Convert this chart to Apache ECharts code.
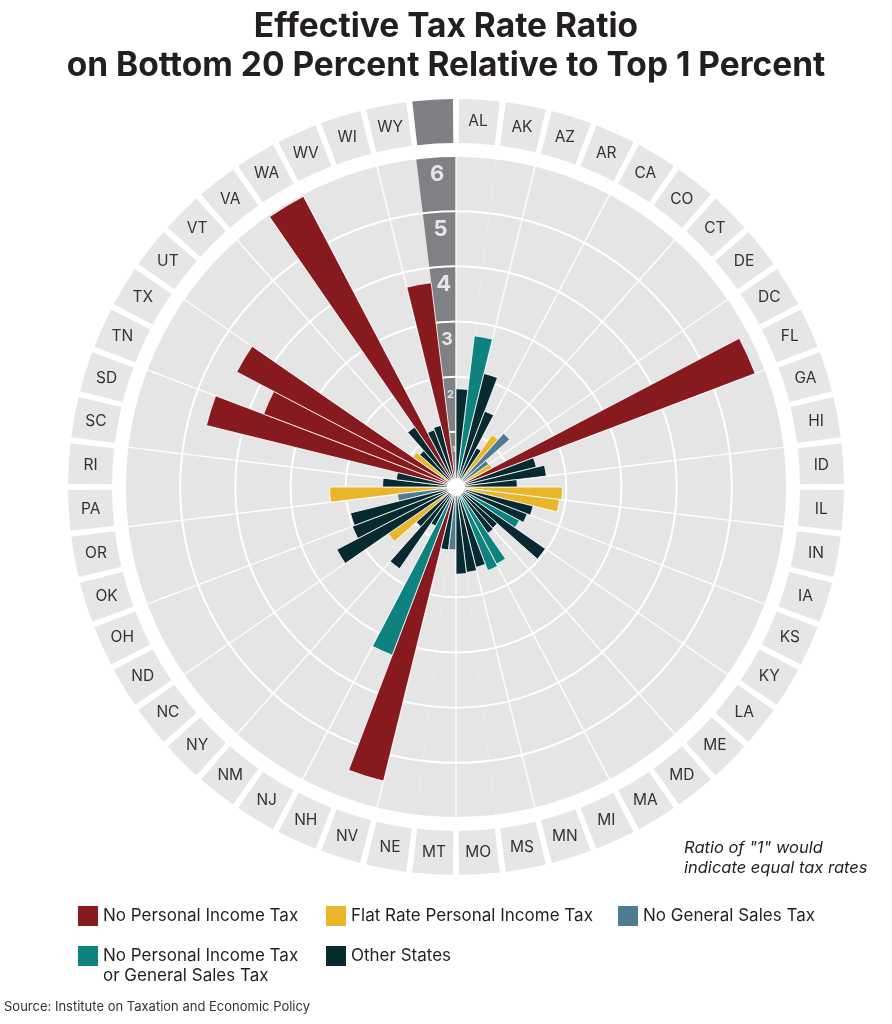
<!DOCTYPE html>
<html>
<head>
<meta charset="utf-8">
<script src="https://cdn.jsdelivr.net/npm/echarts@6/dist/echarts.min.js"></script>
<style>
html,body{margin:0;padding:0;background:#ffffff;}
#chart{width:892px;height:1024px;}
</style>
</head>
<body>
<div id="chart"></div>
<script>
// ---------- data ----------
const states = ['AL','AK','AZ','AR','CA','CO','CT','DE','DC','FL','GA','HI','ID','IL','IN','IA','KS','KY','LA','ME',
  'MD','MA','MI','MN','MS','MO','MT','NE','NV','NH','NJ','NM','NY','NC','ND','OH','OK','OR','PA','RI',
  'SC','SD','TN','TX','UT','VT','VA','WA','WV','WI','WY'];
const ratios = [1.78,2.76,2.12,1.47,0.80,1.15,1.30,0.72,0.74,5.80,1.50,1.65,1.11,1.93,1.89,1.44,1.38,1.30,1.97,1.00,
  1.02,1.58,1.62,1.50,1.56,1.58,1.14,1.15,5.49,3.26,0.80,1.80,0.96,1.49,2.44,2.01,1.97,1.07,2.29,1.33,
  1.09,4.66,3.73,4.49,0.95,0.88,1.32,5.95,1.11,1.15,3.73];
const groups = ['other','none','other','other','other','flat','nost','nost','flat','nopit','other','other','other','flat','flat','other','other','none','other','other',
  'other','none','none','other','other','other','nost','other','nopit','none','other','other','other','flat','other','other','other','nost','flat','other',
  'other','nopit','nopit','nopit','flat','other','other','nopit','other','other','nopit'];
const groupKeys = ['nopit','flat','nost','none','other'];
const groupNames = ['No Personal Income Tax','Flat Rate Personal Income Tax','No General Sales Tax',
  'No Personal Income Tax\nor General Sales Tax','Other States'];
const scaleTicks = [1,2,3,4,5,6];

// ---------- style ----------
const colors = {nopit:'#861a1e', flat:'#e8b52b', nost:'#4f7c93', none:'#0d827e', other:'#062a30'};
const FONT = 'Inter, "Open Sans", sans-serif';
const CX = 456, CY = 487, R = 331;
const cats = states.concat(['']);
const AX = cats.length - 1;
const maxV = scaleTicks[scaleTicks.length - 1];

const dataSeries = groupKeys.map((k, gi) => ({
  type: 'bar', name: groupNames[gi], coordinateSystem: 'polar', polarIndex: 0,
  data: cats.map((s, i) => (i < states.length && groups[i] === k) ? ratios[i] : '-'),
  itemStyle: {color: colors[k], borderColor: '#ffffff', borderWidth: 0.8},
  barGap: '-100%', barCategoryGap: '0%', z: 3
}));

const diskSeries = {
  type: 'bar', coordinateSystem: 'polar', polarIndex: 0, silent: true,
  data: cats.map((c, i) => ({value: maxV, itemStyle: {color: i === AX ? '#808184' : '#e5e5e6'}})),
  barGap: '-100%', barCategoryGap: '0%', z: 1
};

const tickSeries = {
  type: 'scatter', coordinateSystem: 'polar', polarIndex: 0, silent: true,
  symbolSize: 1, itemStyle: {color: 'rgba(0,0,0,0)'}, z: 4,
  data: scaleTicks.map(t => {
    const rpx = (t - 0.32) / maxV * R;
    return {value: [t - 0.32, AX],
      label: {fontSize: Math.max(7, Math.min(22, Math.round(rpx * 0.12)))}};
  }),
  label: {show: true, position: 'inside', color: '#ffffff', fontWeight: 'bold', fontFamily: FONT,
    formatter: p => String(scaleTicks[p.dataIndex])}
};

const ringSeries = {
  type: 'bar', coordinateSystem: 'polar', polarIndex: 1, silent: true,
  data: cats.map((c, i) => ({value: 1, itemStyle: {color: i === AX ? '#7f8083' : '#e6e6e7'}})),
  barCategoryGap: '13%', z: 3,
  label: {show: true, position: 'middle', rotate: 0, color: '#333333', fontSize: 15.5, fontFamily: FONT,
    formatter: p => cats[p.dataIndex]}
};

const legendBase = {itemWidth: 20, itemHeight: 20, icon: 'rect', itemGap: 20, padding: 0,
  itemStyle: {borderWidth: 0},
  textStyle: {fontSize: 17, color: '#231f20', fontFamily: FONT, lineHeight: 20}};

const option = {
  animation: false,
  backgroundColor: '#ffffff',
  title: [
    {text: 'Effective Tax Rate Ratio\non Bottom 20 Percent Relative to Top 1 Percent',
     left: 'center', top: 7, padding: 0,
     textStyle: {fontSize: 33.5, fontWeight: 'bold', color: '#231f20', fontFamily: FONT, lineHeight: 39}},
    {text: 'Ratio of "1" would\nindicate equal tax rates', left: 684, top: 838, padding: 0,
     textStyle: {fontSize: 16.5, fontStyle: 'italic', fontWeight: 'normal', color: '#231f20', fontFamily: FONT, lineHeight: 20}},
    {text: 'Source: Institute on Taxation and Economic Policy', left: 4, top: 1001, padding: 0,
     textStyle: {fontSize: 13, fontWeight: 'normal', color: '#333333', fontFamily: FONT}}
  ],
  legend: [
    Object.assign({left: 78, top: 906, data: [groupNames[0]]}, legendBase),
    Object.assign({left: 326, top: 906, data: [groupNames[1]]}, legendBase),
    Object.assign({left: 618, top: 906, data: [groupNames[2]]}, legendBase),
    Object.assign({left: 78, top: 926, data: [groupNames[3]], formatter: n => ' \n' + n}, legendBase),
    Object.assign({left: 326, top: 946, data: [groupNames[4]]}, legendBase)
  ],
  polar: [
    {center: [CX, CY], radius: [0, R]},
    {center: [CX, CY], radius: [344, 388]}
  ],
  angleAxis: [
    {polarIndex: 0, type: 'category', data: cats, startAngle: 90, clockwise: true, boundaryGap: true, z: 2,
     axisLine: {show: false}, axisTick: {show: false}, axisLabel: {show: false},
     splitLine: {show: true, interval: 0, lineStyle: {color: '#ffffff', width: 1.3}}},
    {polarIndex: 1, type: 'category', data: cats, startAngle: 90, clockwise: true, boundaryGap: true,
     axisLine: {show: false}, axisTick: {show: false}, axisLabel: {show: false}, splitLine: {show: false}}
  ],
  radiusAxis: [
    {polarIndex: 0, type: 'value', min: 0, max: maxV, interval: 1, z: 2,
     axisLine: {show: false}, axisTick: {show: false}, axisLabel: {show: false},
     splitLine: {show: true, lineStyle: {color: '#ffffff', width: 2}}},
    {polarIndex: 1, type: 'value', min: 0, max: 1,
     axisLine: {show: false}, axisTick: {show: false}, axisLabel: {show: false}, splitLine: {show: false}}
  ],
  graphic: [
    {type: 'circle', shape: {cx: CX, cy: CY, r: 9}, style: {fill: '#ffffff'}, z: 100, silent: true}
  ],
  series: [diskSeries].concat(dataSeries, [tickSeries, ringSeries])
};

const chart = echarts.init(document.getElementById('chart'), null, {renderer: 'canvas'});
chart.setOption(option);
</script>
</body>
</html>
